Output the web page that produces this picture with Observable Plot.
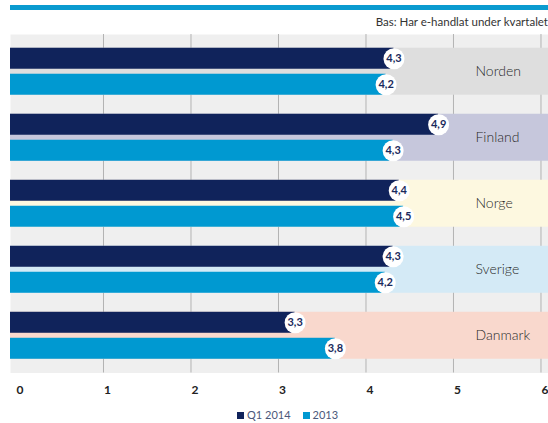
<!DOCTYPE html>
<html><head><meta charset="utf-8">
<script src="https://cdn.jsdelivr.net/npm/d3@7"></script>
<script src="https://cdn.jsdelivr.net/npm/@observablehq/plot@0.6"></script>
<style>
body{margin:0;width:548px;height:423px;overflow:hidden;position:relative;background:#fff;font-family:Lato,sans-serif;}
#topline{position:absolute;left:10px;right:0;top:5px;height:5px;background:#0a9bd0;}
#sub{position:absolute;right:0px;top:15px;font-size:11.5px;color:#333;white-space:nowrap;line-height:14px;}
#chart{position:absolute;left:0;top:0;}
#legend{position:absolute;left:237px;top:408px;font-size:11px;color:#4b587a;white-space:nowrap;line-height:13px;}
#legend span.sw{display:inline-block;width:7px;height:7px;margin-right:3px;vertical-align:0px;}
#legend span.it{margin-right:12px;}
</style></head>
<body>
<div id="topline"></div>
<div id="sub">Bas: Har e-handlat under kvartalet</div>
<div id="chart"></div>
<div id="legend"></div>
<script>
const regions = ["Norden", "Finland", "Norge", "Sverige", "Danmark"];
const seriesNames = ["Q1 2014", "2013"];
// bar lengths as drawn in the picture
const q1Values = [4.32, 4.83, 4.38, 4.31, 3.19];
const y2013Values = [4.23, 4.31, 4.43, 4.22, 3.65];
// printed value labels
const q1Labels = ["4,3", "4,9", "4,4", "4,3", "3,3"];
const y2013Labels = ["4,2", "4,3", "4,5", "4,2", "3,8"];
const xTicks = [0, 1, 2, 3, 4, 5, 6];
const gridTicks = [1, 2, 3, 4, 5, 6];
const bandColors = ["#dedede", "#c6c7dc", "#fdf8e0", "#d4eaf6", "#f9d8cd"];
const seriesColors = ["#10235b", "#0099d1"];

const xMin = -0.0629, xMax = 6.086;

const bands = regions.map((r, i) => ({region: r, color: bandColors[i]}));
const q1 = regions.map((r, i) => ({region: r, value: q1Values[i], label: q1Labels[i]}));
const y13 = regions.map((r, i) => ({region: r, value: y2013Values[i], label: y2013Labels[i]}));

const chart = Plot.plot({
  width: 548, height: 400,
  marginLeft: 10, marginRight: 0, marginTop: 34, marginBottom: 27.5,
  style: {fontFamily: "Lato, sans-serif", background: "transparent"},
  x: {domain: [xMin, xMax], axis: null, label: null},
  y: {domain: regions, type: "band", paddingInner: 0.288, paddingOuter: 0.208, round: false, axis: null, label: null},
  marks: [
    Plot.frame({fill: "#efefef", stroke: null}),
    Plot.ruleX(gridTicks, {stroke: "#b3b3b3", strokeWidth: 1}),
    Plot.barX(bands, {x1: xMin, x2: xMax, y: "region", fill: "color"}),
    Plot.barX(q1, {x1: xMin, x2: "value", y: "region", fill: seriesColors[0], insetBottom: 26}),
    Plot.barX(y13, {x1: xMin, x2: "value", y: "region", fill: seriesColors[1], insetTop: 26}),
    Plot.dot(q1, {x: "value", y: "region", dy: -13, r: 10.5, fill: "white", stroke: null}),
    Plot.dot(y13, {x: "value", y: "region", dy: 13, r: 10.5, fill: "white", stroke: null}),
    Plot.text(q1, {x: "value", y: "region", dy: -13, text: "label", fill: "#1a2a5c", fontSize: 11, fontWeight: "bold"}),
    Plot.text(y13, {x: "value", y: "region", dy: 13, text: "label", fill: "#1a2a5c", fontSize: 11, fontWeight: "bold"}),
    Plot.text(regions, {y: d => d, text: d => d, frameAnchor: "right", dx: -73, textAnchor: "start", fontSize: 14, fontWeight: 300, fill: "#2a2a2a"}),
    Plot.axisX(xTicks, {tickSize: 0, tickPadding: 12.5, dx: 4, fontSize: 12, fontWeight: "bold", fill: "#222", label: null, tickFormat: d => String(d)})
  ]
});
document.getElementById("chart").appendChild(chart);

const legend = document.getElementById("legend");
seriesNames.forEach((name, i) => {
  const it = document.createElement("span");
  it.className = "it";
  const sw = document.createElement("span");
  sw.className = "sw";
  sw.style.background = seriesColors[i];
  it.appendChild(sw);
  it.appendChild(document.createTextNode(name));
  legend.appendChild(it);
});
</script>
</body></html>
